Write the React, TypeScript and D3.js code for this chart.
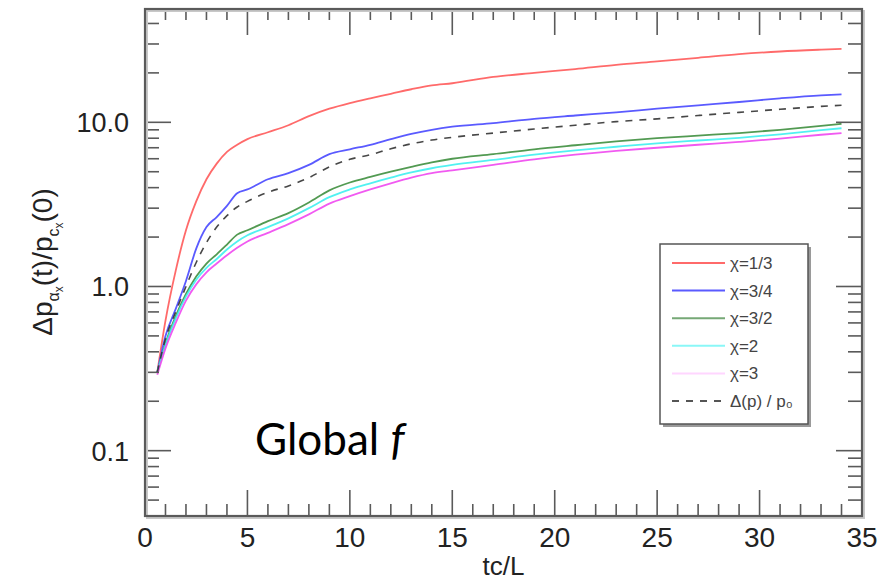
import React from 'react';
import * as d3 from 'd3';

// time samples (tc/L)
const times = [0.6, 1, 1.5, 2, 2.5, 3, 3.5, 4, 4.5, 5, 6, 7, 8, 9, 10, 11, 12, 13, 14, 15, 17, 19, 21, 23, 25, 27, 29, 31, 33, 34];

// curves
const chi13 = [0.30, 0.62, 1.25, 2.2, 3.3, 4.5, 5.6, 6.6, 7.3, 7.9, 8.7, 9.6, 10.9, 12.1, 13.1, 14.0, 14.9, 15.9, 16.8, 17.3, 18.9, 20.0, 21.1, 22.4, 23.5, 24.7, 26.0, 27.0, 27.7, 28.0];
const chi34 = [0.30, 0.5, 0.73, 1.08, 1.7, 2.3, 2.65, 3.1, 3.7, 3.9, 4.5, 4.9, 5.5, 6.4, 6.85, 7.3, 7.9, 8.5, 9.0, 9.4, 9.9, 10.5, 11.0, 11.5, 12.1, 12.7, 13.3, 14.0, 14.6, 14.8];
const chi32 = [0.30, 0.45, 0.66, 0.9, 1.15, 1.38, 1.57, 1.8, 2.07, 2.2, 2.5, 2.8, 3.25, 3.85, 4.3, 4.65, 5.0, 5.35, 5.7, 6.0, 6.4, 6.85, 7.25, 7.65, 8.0, 8.3, 8.6, 9.0, 9.5, 9.8];
const chi2 = [0.30, 0.44, 0.64, 0.87, 1.1, 1.3, 1.47, 1.68, 1.88, 2.05, 2.3, 2.6, 3.0, 3.5, 3.9, 4.25, 4.6, 4.95, 5.25, 5.5, 5.9, 6.35, 6.75, 7.1, 7.45, 7.75, 8.05, 8.45, 8.95, 9.2];
const chi3 = [0.29, 0.42, 0.6, 0.82, 1.03, 1.22, 1.38, 1.55, 1.72, 1.88, 2.12, 2.4, 2.75, 3.2, 3.55, 3.9, 4.25, 4.6, 4.9, 5.1, 5.5, 5.95, 6.35, 6.7, 7.0, 7.3, 7.6, 7.95, 8.4, 8.6];
const meanP = [0.30, 0.48, 0.7, 1.0, 1.4, 1.85, 2.3, 2.7, 3.05, 3.3, 3.75, 4.1, 4.6, 5.35, 5.95, 6.35, 6.9, 7.4, 7.8, 8.1, 8.6, 9.1, 9.6, 10.1, 10.5, 11.0, 11.5, 12.0, 12.5, 12.7];

const xTicks = [0, 5, 10, 15, 20, 25, 30, 35];
const yTicks = [0.1, 1, 10];
const yTickLabels = ['0.1', '1.0', '10.0'];

const series = [
  { label: 'χ=1/3', values: chi13, color: '#ff5a5a', legendColor: '#ff6a6a', dash: null },
  { label: 'χ=3/4', values: chi34, color: '#4848ff', legendColor: '#5a5aff', dash: null },
  { label: 'χ=3/2', values: chi32, color: '#3f8f3f', legendColor: '#76a876', dash: null },
  { label: 'χ=2', values: chi2, color: '#3ff0f0', legendColor: '#8af7f7', dash: null },
  { label: 'χ=3', values: chi3, color: '#f048f0', legendColor: '#ffd6ff', dash: null },
  { label: 'Δ(p) / p₀', values: meanP, color: '#333', legendColor: '#555', dash: '7,7' },
];

const W = 892;
const H = 581;
const left = 145, right = 862, top = 9, bottom = 516;

export default function App() {
  const x = d3.scaleLinear().domain([0, 35]).range([left, right]);
  const y = d3.scaleLog().domain([0.04, 49]).range([bottom, top]);

  const line = d3.line<number>()
    .x((_, i) => x(times[i]))
    .y(d => y(d))
    .curve(d3.curveMonotoneX);

  const xMinor = d3.range(1, 35).filter(v => v % 5 !== 0);
  const yMinor: number[] = [];
  [0.01, 0.1, 1, 10].forEach(dec => {
    for (let k = 2; k <= 9; k++) {
      const v = dec * k;
      if (v > 0.04 && v < 49) yMinor.push(v);
    }
  });

  const frame = '#5a5a5a';
  const font = '"Liberation Sans", Arial, sans-serif';

  const lx = 660, ly = 244, lw = 148, lh = 180;

  return (
    <svg width={W} height={H} style={{ position: 'absolute', left: 0, top: 0, background: '#fff' }}>
      <rect width={W} height={H} fill="#fff" />

      <defs>
        <clipPath id="plot">
          <rect x={left} y={top} width={right - left} height={bottom - top} />
        </clipPath>
      </defs>

      {/* curves */}
      <g clipPath="url(#plot)">
        {series.map(s => (
          <path key={s.label} d={line(s.values) || ''} fill="none" stroke={s.color}
            strokeWidth={s.dash ? 1.6 : 1.8} strokeDasharray={s.dash || undefined} strokeOpacity={0.9} />
        ))}
      </g>

      {/* ticks */}
      <g stroke={frame} strokeWidth={1.6}>
        {xTicks.map(t => (
          <g key={'xt' + t}>
            <line x1={x(t)} x2={x(t)} y1={bottom} y2={bottom - 26} />
            <line x1={x(t)} x2={x(t)} y1={top} y2={top + 26} />
          </g>
        ))}
        {xMinor.map(t => (
          <g key={'xm' + t}>
            <line x1={x(t)} x2={x(t)} y1={bottom} y2={bottom - 12} />
            <line x1={x(t)} x2={x(t)} y1={top} y2={top + 11} />
          </g>
        ))}
        {yTicks.map(t => (
          <g key={'yt' + t}>
            <line x1={left} x2={left + 26} y1={y(t)} y2={y(t)} />
            <line x1={right} x2={right - 26} y1={y(t)} y2={y(t)} />
          </g>
        ))}
        {yMinor.map(t => (
          <g key={'ym' + t}>
            <line x1={left} x2={left + 14} y1={y(t)} y2={y(t)} />
            <line x1={right} x2={right - 14} y1={y(t)} y2={y(t)} />
          </g>
        ))}
      </g>

      {/* frame with shadow */}
      <rect x={left + 2} y={top + 2} width={right - left} height={bottom - top} fill="none" stroke="#c8c8c8" strokeWidth={2} />
      <rect x={left} y={top} width={right - left} height={bottom - top} fill="none" stroke={frame} strokeWidth={2.2} />

      {/* tick labels */}
      <g fontFamily={font} fontSize={28} fill="#222">
        {xTicks.map(t => (
          <text key={'xl' + t} x={x(t)} y={547} textAnchor="middle">{t}</text>
        ))}
      </g>
      <g fontFamily={font} fontSize={27} fill="#222">
        {yTicks.map((t, i) => (
          <text key={'yl' + t} x={129} y={y(t) + 10} textAnchor="end">{yTickLabels[i]}</text>
        ))}
      </g>

      {/* axis titles */}
      <text x={x(17.5)} y={575} textAnchor="middle" fontFamily={font} fontSize={26} fill="#222">tc/L</text>
      <text transform={`translate(52, 262) rotate(-90)`} textAnchor="middle" fontFamily={font} fontSize={28} fill="#222">
        Δp<tspan fontSize={16} dy={7}>α</tspan><tspan fontSize={12} dy={4}>x</tspan>
        <tspan dy={-11}>(t)/p</tspan><tspan fontSize={16} dy={7}>c</tspan><tspan fontSize={12} dy={4}>x</tspan>
        <tspan dy={-11}>(0)</tspan>
      </text>

      {/* legend */}
      <rect x={lx + 3} y={ly + 3} width={lw} height={lh} fill="#9a9a9a" />
      <rect x={lx} y={ly} width={lw} height={lh} fill="#fff" stroke="#555" strokeWidth={1.5} />
      {series.map((s, i) => {
        const yy = ly + 19 + i * 27.6;
        return (
          <g key={'lg' + s.label}>
            <line x1={lx + 12} x2={lx + 65} y1={yy} y2={yy} stroke={s.legendColor}
              strokeWidth={2} strokeDasharray={s.dash || undefined} />
            <text x={lx + 70} y={yy + 6} fontFamily={font} fontSize={17} fill="#444">{s.label}</text>
          </g>
        );
      })}

      {/* annotation */}
      <text x={255} y={455} fontFamily="Lato, 'Open Sans', sans-serif" fontSize={44} fill="#000">
        Global <tspan fontStyle="italic">f</tspan>
      </text>
    </svg>
  );
}
